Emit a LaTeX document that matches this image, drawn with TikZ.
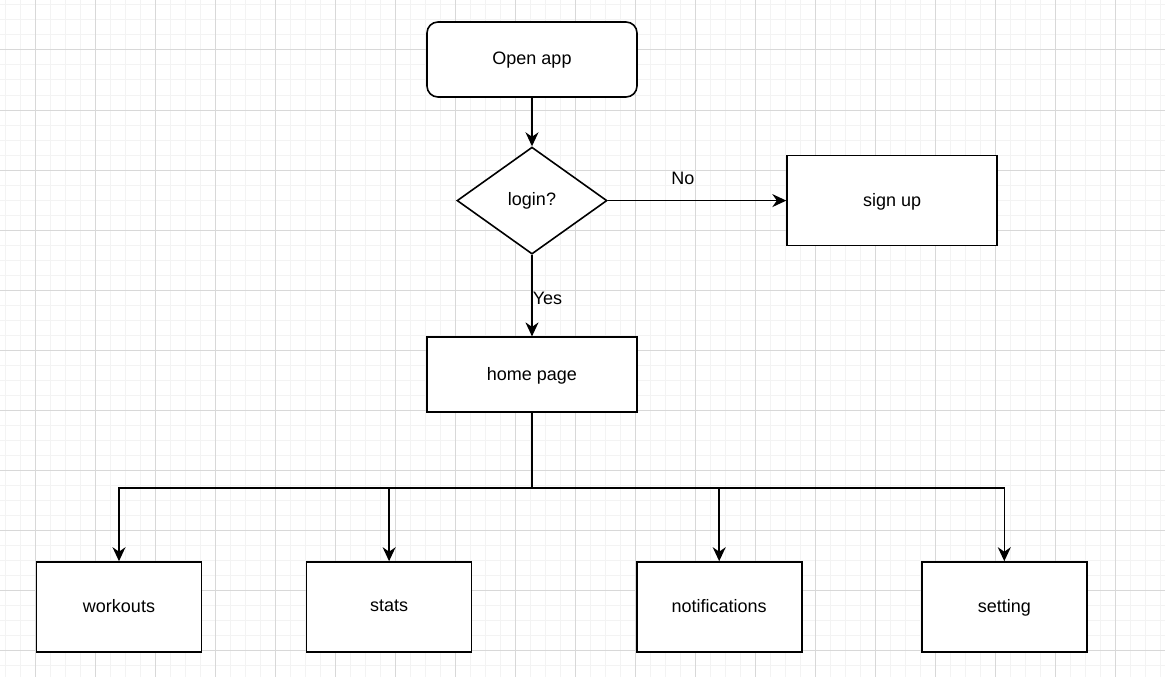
\documentclass[tikz,border=0pt]{standalone}
\usepackage{fontspec}
\setmainfont{Liberation Sans}
\usepackage{tikz}
\usetikzlibrary{arrows.meta,positioning,shapes.geometric}

\definecolor{gridminor}{RGB}{243,243,243}
\definecolor{gridmajor}{RGB}{216,216,216}

\begin{document}
\begin{tikzpicture}[-,>={Stealth[length=14pt,width=13pt,inset=4.5pt]},x=1pt,y=-1pt,
			line width=1.6pt,font=\fontsize{18pt}{21pt}\selectfont,
			box/.style={draw,rectangle,fill=white,minimum width=210pt,minimum height=75pt,text depth=2pt},
			startbox/.style={box,rounded corners=11pt},
			sub/.style={box,minimum width=165pt,minimum height=90pt},
			decision/.style={draw,diamond,fill=white,inner sep=0pt,minimum width=150pt,minimum height=107pt}]
			
			\useasboundingbox (0,0) rectangle (1165,677);
			% background grid
			\foreach \gx in {5,20,...,1165} \draw[gridminor,line width=1pt] (\gx,0) -- (\gx,677);
			\foreach \gy in {5,20,...,677} \draw[gridminor,line width=1pt] (0,\gy) -- (1165,\gy);
			\foreach \gx in {35,95,...,1165} \draw[gridmajor,line width=1pt] (\gx,0) -- (\gx,677);
			\foreach \gy in {50,110,...,677} \draw[gridmajor,line width=1pt] (0,\gy) -- (1165,\gy);
			
			\node[startbox] (open) at (532,59.5)          {Open app};
			\node[decision] (login) [below=48.5pt of open]  {login?};
			\node[box,minimum height=90pt] (signup) [right=178.5pt of login] {sign up};
			\node[box] (home) [below=81.5pt of login]       {home page};
			\node[sub] (workouts) at (119,607)              {workouts};
			\node[sub] (stats) [right=103.5pt of workouts]  {stats};
			\node[sub] (notif) [right=163.5pt of stats]     {notifications};
			\node[sub] (setting) [right=118.5pt of notif]   {setting};
			
			\path[->] (open) edge (login)
			(login) edge node[pos=0.42,anchor=base,yshift=16pt] {No} (signup)
			(login) edge node[pos=0.61,anchor=base west,inner sep=0pt] {Yes} (home);
			
			\draw (home.south) -- ++(0,75) coordinate (bus);
			\draw[->] (bus) -| (workouts);
			\draw[->] (bus) -| (stats);
			\draw[->] (bus) -| (notif);
			\draw[->] (bus) -| (setting);
\end{tikzpicture}
\end{document}
